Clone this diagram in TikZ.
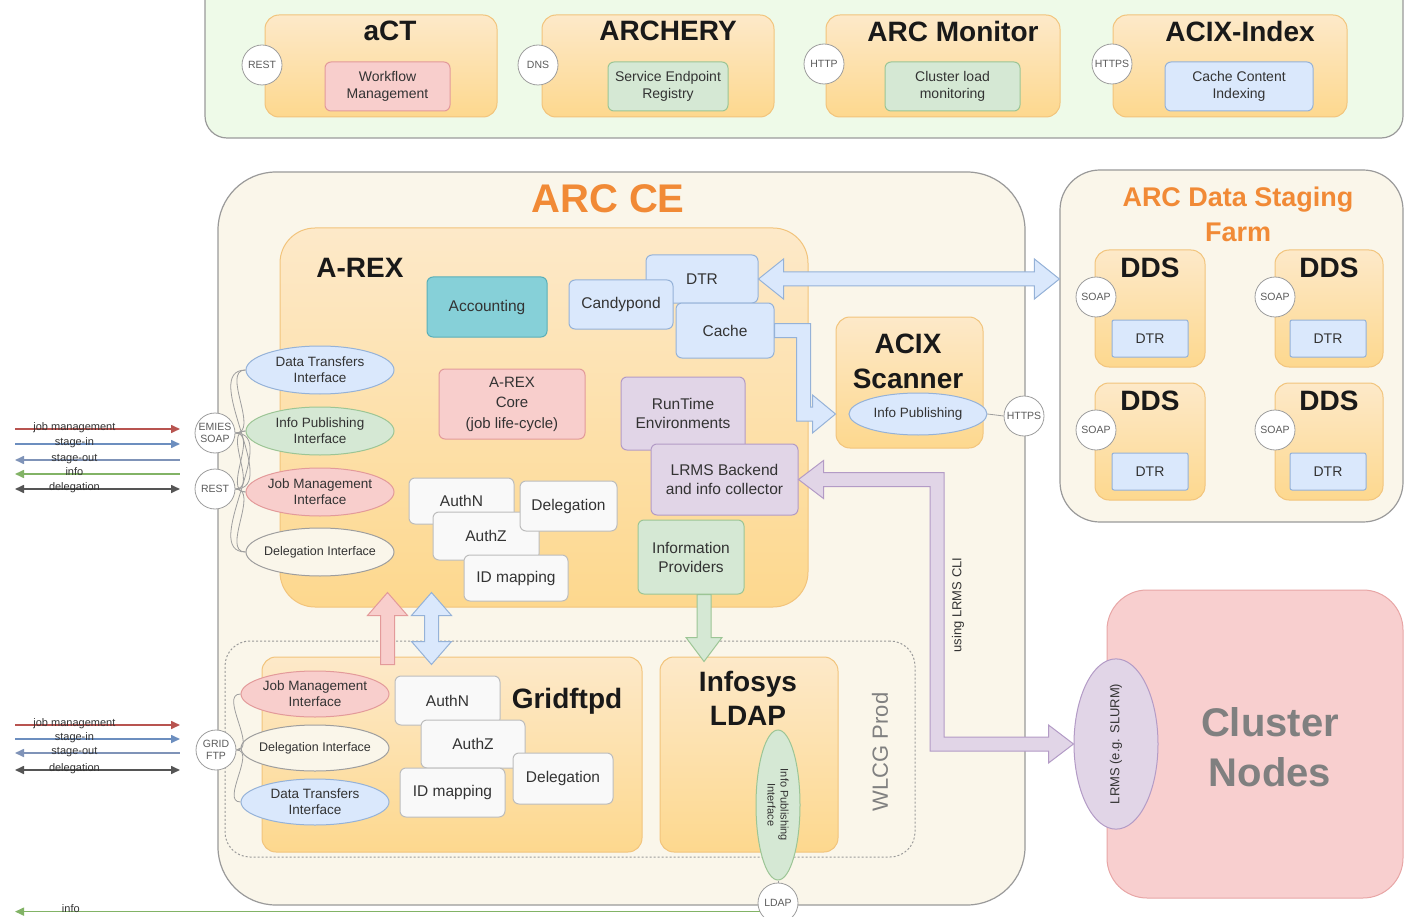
\documentclass[tikz,border=0pt]{standalone}
\usepackage{fontspec}
\setmainfont{Liberation Sans}
\usetikzlibrary{arrows.meta,shapes.geometric,calc}
\definecolor{orT}{HTML}{FDE9C9}
\definecolor{orB}{HTML}{FDD88E}
\definecolor{orD}{HTML}{F2C47C}
\definecolor{pkF}{HTML}{F8CECC}
\definecolor{pkD}{HTML}{E39A9A}
\definecolor{gnF}{HTML}{D5E8D4}
\definecolor{gnD}{HTML}{9CC595}
\definecolor{blF}{HTML}{DAE8FC}
\definecolor{blD}{HTML}{95B2D8}
\definecolor{puF}{HTML}{E1D5E7}
\definecolor{puD}{HTML}{B39BC6}
\definecolor{tlF}{HTML}{86D0D8}
\definecolor{tlD}{HTML}{5AAFB8}
\definecolor{whF}{HTML}{F9F9F9}
\definecolor{whD}{HTML}{BDBDBD}
\definecolor{crF}{HTML}{FAF6EA}
\definecolor{pnD}{HTML}{9A9A9A}
\definecolor{tgF}{HTML}{EEFAE8}
\definecolor{clF}{HTML}{F8CFCF}
\definecolor{clD}{HTML}{E8A6A6}
\definecolor{arcO}{HTML}{F18A36}
\definecolor{txt}{HTML}{333333}
\definecolor{ciD}{HTML}{9E9E9E}
\definecolor{jmC}{HTML}{B85450}
\definecolor{siC}{HTML}{6C8EBF}
\definecolor{soC}{HTML}{7F93B8}
\definecolor{inC}{HTML}{82B366}
\definecolor{dlC}{HTML}{555555}
\newcommand{\myfA}{\fontsize{15.5}{19}\selectfont}
\newcommand{\myfB}{\fontsize{14}{17}\selectfont}
\newcommand{\myfI}{\fontsize{13.5}{16}\selectfont}
\newcommand{\myfC}{\fontsize{10.5}{12}\selectfont}
\newcommand{\myfT}{\bfseries\fontsize{28}{35}\selectfont}
\newcommand{\myfL}{\fontsize{11}{12}\selectfont}
\newcommand{\mybx}[7]{\node[#6,minimum width={(#4-#2)*1pt},minimum height={(#5-#3)*1pt}] (#1) at ({(#2+#4)/2},{(#3+#5)/2}) {#7};}
\newcommand{\myel}[7]{\node[ifc,#6,minimum width={#4*1pt},minimum height={#5*1pt}] (#1) at (#2,#3) {#7};}
\newcommand{\myci}[4]{\node[circ] (#1) at (#2,#3) {#4};}
\tikzset{mytip/.tip={Triangle[length=9pt,width=8pt]}}
\begin{document}
\begin{tikzpicture}[x=1pt,y=-1pt,
  panel/.style={draw=pnD,line width=1.2pt,inner sep=0pt},
  ob/.style={draw=orD,line width=1pt,top color=orT,bottom color=orB,rounded corners=14pt,inner sep=0pt},
  sb/.style={line width=1pt,rounded corners=6pt,align=center,text=txt,inner sep=2pt,font=\myfA},
  pk/.style={sb,fill=pkF,draw=pkD},
  gn/.style={sb,fill=gnF,draw=gnD},
  bl/.style={sb,fill=blF,draw=blD},
  pu/.style={sb,fill=puF,draw=puD},
  tl/.style={sb,fill=tlF,draw=tlD},
  wh/.style={sb,fill=whF,draw=whD},
  ttl/.style={font=\myfT,text=black!90,align=center},
  ttlO/.style={text=arcO,align=center},
  circ/.style={circle,draw=ciD,fill=white,line width=0.8pt,minimum size=40pt,inner sep=0pt,align=center,text=txt!80,font=\myfC},
  ifc/.style={ellipse,line width=1pt,inner sep=0pt,align=center,text=txt,font=\myfI},
  dlab/.style={label={[font=\fontsize{12.5}{15}\selectfont,text=txt]center:Delegation Interface}},
  conn/.style={draw=ciD,line width=0.8pt},
  la/.style={line width=1.6pt},
  lab/.style={anchor=base,yshift=-1pt,font=\myfL,text=txt},
  fatBl/.style={fill=blF,draw=blD,line width=1pt,line join=miter},
  fatPu/.style={fill=puF,draw=puD,line width=1pt,line join=miter},
  fatGn/.style={fill=gnF,draw=gnD,line width=1pt,line join=miter},
  fatPk/.style={fill=pkF,draw=pkD,line width=1pt,line join=miter}]
\useasboundingbox (0,0) rectangle (1405,917);
\fill[white] (0,0) rectangle (1405,917);

% ---------- top panel ----------
\mybx{toppanel}{205}{-40}{1403}{138}{panel,fill=tgF,rounded corners=22pt}{}
\mybx{act}{265}{15}{497}{117}{ob}{}
\node[ttl] (actT) at (390,31) {aCT};
\mybx{wf}{325}{62}{450}{111}{pk,font=\myfB}{Workflow\\Management}
\myci{restT}{262}{65}{REST}
\mybx{arch}{542}{15}{774}{117}{ob}{}
\node[ttl] (archT) at (668,31) {ARCHERY};
\mybx{ser}{608}{62}{728}{111}{gn,font=\myfB}{Service Endpoint\\Registry}
\myci{dns}{538}{65}{DNS}
\mybx{mon}{826}{15}{1060}{117}{ob}{}
\node[ttl] (monT) at (953,31) {ARC Monitor};
\mybx{clm}{885}{62}{1020}{111}{gn,font=\myfB}{Cluster load\\monitoring}
\myci{httpT}{824}{64}{HTTP}
\mybx{idx}{1113}{15}{1347}{117}{ob}{}
\node[ttl] (idxT) at (1240,31) {ACIX-Index};
\mybx{cci}{1165}{62}{1313}{111}{bl,font=\myfB}{Cache Content\\Indexing}
\myci{httpsT}{1112}{64}{HTTPS}

% ---------- ARC CE ----------
\mybx{arcce}{218}{172}{1025}{905}{panel,fill=crF,rounded corners=58pt}{}
\node[ttlO,font=\bfseries\fontsize{40}{46}\selectfont] (arcceT) at (608,199) {ARC CE};

% WLCG Prod
\mybx{wlcg}{225}{641}{915}{857}{draw=pnD,line width=1pt,dash pattern=on 2pt off 2pt,rounded corners=25pt,inner sep=0pt}{}
\node[rotate=90,text=gray,font=\fontsize{22}{26}\selectfont] (wlcgT) at (880,752) {WLCG Prod};

% A-REX
\mybx{arex}{280}{228}{808}{607}{ob,rounded corners=35pt}{}
\node[ttl] (arexT) at (360,268) {A-REX};
\mybx{acc}{427}{277}{547}{337}{tl}{Accounting}
\mybx{dtr}{646}{255}{758}{303}{bl}{DTR}
\mybx{cand}{569}{280}{673}{329}{bl}{Candypond}
\mybx{cache}{676}{303}{774}{358}{bl}{Cache}
\mybx{core}{439}{369}{585}{439}{pk,font=\fontsize{15}{20.5}\selectfont}{A-REX\\Core\\(job life-cycle)}
\mybx{rte}{621}{377}{745}{450}{pu}{RunTime\\Environments}
\mybx{lrmsb}{651}{444}{798}{515}{pu}{LRMS Backend\\and info collector}
\mybx{infop}{638}{520}{744}{594}{gn}{Information\\Providers}
\mybx{authn}{409}{478}{514}{524}{wh}{AuthN}
\mybx{authz}{433}{512}{539}{560}{wh}{AuthZ}
\mybx{idm}{464}{555}{568}{601}{wh}{ID mapping}
\mybx{deleg}{520}{481}{617}{531}{wh}{Delegation}

\myel{dti}{320}{370}{148}{48}{fill=blF,draw=blD}{Data Transfers\\Interface}
\myel{ipi}{320}{431}{148}{48}{fill=gnF,draw=gnD}{Info Publishing\\Interface}
\myel{jmi}{320}{492}{148}{48}{fill=pkF,draw=pkD}{Job Management\\Interface}
\myel{dli}{320}{552}{148}{48}{fill=crF,draw=ciD,dlab}{}
\myci{emies}{215}{433}{EMIES\\SOAP}
\myci{restA}{215}{489}{REST}
\foreach \e in {dti,ipi,jmi,dli}{
  \draw[conn] (emies.east) to[out=0,in=180] (\e.west);
  \draw[conn] (restA.east) to[out=0,in=180] (\e.west);
}

% Gridftpd
\mybx{gftp}{262}{657}{642}{852}{ob}{}
\node[ttl] (gftpT) at (567,701) {Gridftpd};
\mybx{gauthn}{395}{676}{500}{725}{wh}{AuthN}
\mybx{gauthz}{421}{720}{525}{768}{wh}{AuthZ}
\mybx{gidm}{400}{768}{505}{817}{wh}{ID mapping}
\mybx{gdeleg}{513}{753}{613}{804}{wh}{Delegation}
\myel{gjmi}{315}{694}{148}{46}{fill=pkF,draw=pkD}{Job Management\\Interface}
\myel{gdli}{315}{748}{148}{46}{fill=crF,draw=ciD,dlab}{}
\myel{gdti}{315}{802}{148}{46}{fill=blF,draw=blD}{Data Transfers\\Interface}
\myci{gridftp}{216}{750}{GRID\\FTP}
\foreach \e in {gjmi,gdli,gdti}{
  \draw[conn] (gridftp.east) to[out=0,in=180] (\e.west);
}

% Infosys LDAP
\mybx{ldap}{660}{657}{838}{852}{ob}{}
\node[ttl,font=\bfseries\fontsize{28}{34}\selectfont] (ldapT) at (748,698) {Infosys\\LDAP};
\node[ifc,fill=gnF,draw=gnD,rotate=-90,minimum width=150pt,minimum height=44pt,font=\fontsize{11}{13}\selectfont] (ldapip) at (778,805) {Info Publishing\\Interface};
\myci{ldapc}{778}{903}{LDAP}
\draw[conn] (ldapip.east) -- (ldapc.north);

% ACIX Scanner
\mybx{acix}{836}{317}{983}{448}{ob}{}
\node[ttl,font=\bfseries\fontsize{28}{35}\selectfont] (acixT) at (908,361) {ACIX\\Scanner};
\myel{acixip}{918}{414}{138}{42}{fill=blF,draw=blD}{Info Publishing}
\myci{httpsA}{1024}{416}{HTTPS}
\draw[conn] (acixip.east) -- (httpsA.west);

% ---------- Data staging farm ----------
\mybx{farm}{1060}{170}{1403}{522}{panel,fill=crF,rounded corners=40pt}{}
\node[ttlO,font=\bfseries\fontsize{27}{35}\selectfont] (farmT) at (1238,214) {ARC Data Staging\\Farm};
\mybx{dds1}{1095}{250}{1205}{367}{ob}{}
\node[ttl] (dds1T) at (1150,268) {DDS};
\mybx{dtr1}{1112}{320}{1188}{357}{bl,rounded corners=2pt,font=\myfB}{DTR}
\myci{soap1}{1096}{297}{SOAP}
\mybx{dds2}{1275}{250}{1383}{367}{ob}{}
\node[ttl] (dds2T) at (1329,268) {DDS};
\mybx{dtr2}{1290}{320}{1366}{357}{bl,rounded corners=2pt,font=\myfB}{DTR}
\myci{soap2}{1275}{297}{SOAP}
\mybx{dds3}{1095}{383}{1205}{500}{ob}{}
\node[ttl] (dds3T) at (1150,401) {DDS};
\mybx{dtr3}{1112}{453}{1188}{490}{bl,rounded corners=2pt,font=\myfB}{DTR}
\myci{soap3}{1096}{430}{SOAP}
\mybx{dds4}{1275}{383}{1383}{500}{ob}{}
\node[ttl] (dds4T) at (1329,401) {DDS};
\mybx{dtr4}{1290}{453}{1366}{490}{bl,rounded corners=2pt,font=\myfB}{DTR}
\myci{soap4}{1275}{430}{SOAP}

% ---------- Cluster nodes ----------
\mybx{cluster}{1107}{590}{1403}{898}{fill=clF,draw=clD,line width=1pt,rounded corners=40pt,inner sep=0pt}{}
\node[font=\bfseries\fontsize{40}{50}\selectfont,text=gray,align=center] (clT) at (1270,747) {Cluster\\Nodes};
\node[ellipse,rotate=90,minimum width=160pt,minimum height=84pt,inner sep=0pt,fill=puF,draw=puD,line width=1pt,text=txt,font=\fontsize{13}{15}\selectfont] (lrms) at (1116,744) {LRMS (e.g. SLURM)};

% ---------- fat arrows ----------
\coordinate (dA) at (dtr.east);
\coordinate (dB) at (farm.west |- dA);
\draw[fatBl] (dA) -- ($(dA)+(25,-20)$) -- ($(dA)+(25,-7)$) -- ($(dB)+(-25,-7)$) -- ($(dB)+(-25,-20)$) -- (dB) -- ($(dB)+(-25,20)$) -- ($(dB)+(-25,7)$) -- ($(dA)+(25,7)$) -- ($(dA)+(25,20)$) -- cycle;

\coordinate (cA) at (cache.east);
\coordinate (cT) at (acix.west |- acixip.center);
\draw[fatBl] ($(cA)+(0,-7)$) -- ($(cT |- cA)+(-25,-7)$) -- ($(cT)+(-25,-7)$) -- ($(cT)+(-23,-7)$) -- ($(cT)+(-23,-19)$) -- (cT) -- ($(cT)+(-23,19)$) -- ($(cT)+(-23,7)$) -- ($(cT)+(-39,7)$) -- ($(cT |- cA)+(-39,7)$) -- ($(cA)+(0,7)$) -- cycle;

\coordinate (pA) at (lrmsb.east);
\coordinate (pB) at (lrms.north);
\coordinate (pC) at (937,480);
\draw[fatPu] (pA) -- ($(pA)+(25,-19)$) -- ($(pA)+(25,-7)$) -- ($(pC |- pA)+(7,-7)$) -- ($(pC |- pB)+(7,-7)$) -- ($(pB)+(-25,-7)$) -- ($(pB)+(-25,-19)$) -- (pB) -- ($(pB)+(-25,19)$) -- ($(pB)+(-25,7)$) -- ($(pC |- pB)+(-7,7)$) -- ($(pC |- pA)+(-7,7)$) -- ($(pA)+(25,7)$) -- ($(pA)+(25,19)$) -- cycle;
\node[rotate=90,text=txt,font=\fontsize{13}{15}\selectfont] (cliT) at (958,605) {using LRMS CLI};

\coordinate (gA) at ($(infop.south)+(13,0)$);
\coordinate (gT) at ($(gA |- ldap.north)+(0,5)$);
\draw[fatGn] ($(gA)+(-7,0)$) -- ($(gA)+(7,0)$) -- ($(gT)+(7,-24)$) -- ($(gT)+(18,-24)$) -- (gT) -- ($(gT)+(-18,-24)$) -- ($(gT)+(-7,-24)$) -- cycle;

\coordinate (kB) at ($(gftp.north west)+(126,8)$);
\coordinate (kT) at ($(kB |- arex.south)+(0,-15)$);
\draw[fatPk] ($(kB)+(-7,0)$) -- ($(kT)+(-7,23)$) -- ($(kT)+(-20,23)$) -- (kT) -- ($(kT)+(20,23)$) -- ($(kT)+(7,23)$) -- ($(kB)+(7,0)$) -- cycle;

\coordinate (bB) at ($(kB)+(44,0)$);
\coordinate (bT) at ($(kT)+(44,0)$);
\draw[fatBl] (bT) -- ($(bT)+(20,23)$) -- ($(bT)+(7,23)$) -- ($(bB)+(7,-23)$) -- ($(bB)+(20,-23)$) -- (bB) -- ($(bB)+(-20,-23)$) -- ($(bB)+(-7,-23)$) -- ($(bT)+(-7,23)$) -- ($(bT)+(-20,23)$) -- cycle;

% ---------- left external arrows ----------
\coordinate (a1s) at (15,429); \coordinate (a1e) at (180,429);
\coordinate (a2s) at (15,444); \coordinate (a2e) at (180,444);
\coordinate (a3s) at (15,460); \coordinate (a3e) at (180,460);
\coordinate (a4s) at (15,474); \coordinate (a4e) at (180,474);
\coordinate (a5s) at (15,489); \coordinate (a5e) at (180,489);
\draw[la,jmC,-{mytip}] (a1s) -- (a1e) node[lab,pos=0.36] {job management};
\draw[la,siC,-{mytip}] (a2s) -- (a2e) node[lab,pos=0.36] {stage-in};
\draw[la,soC,{mytip}-] (a3s) -- (a3e) node[lab,pos=0.36] {stage-out};
\draw[la,inC,{mytip}-] (a4s) -- (a4e) node[lab,pos=0.36] {info};
\draw[la,dlC,{mytip}-{mytip}] (a5s) -- (a5e) node[lab,pos=0.36] {delegation};

\coordinate (b1s) at (15,725); \coordinate (b1e) at (180,725);
\coordinate (b2s) at (15,739); \coordinate (b2e) at (180,739);
\coordinate (b3s) at (15,753); \coordinate (b3e) at (180,753);
\coordinate (b4s) at (15,770); \coordinate (b4e) at (180,770);
\draw[la,jmC,-{mytip}] (b1s) -- (b1e) node[lab,pos=0.36] {job management};
\draw[la,siC,-{mytip}] (b2s) -- (b2e) node[lab,pos=0.36] {stage-in};
\draw[la,soC,{mytip}-] (b3s) -- (b3e) node[lab,pos=0.36] {stage-out};
\draw[la,dlC,{mytip}-{mytip}] (b4s) -- (b4e) node[lab,pos=0.36] {delegation};

\coordinate (infoEnd) at (15,911);
\draw[la,inC,{mytip}-] (infoEnd |- ldapc.205) -- (ldapc.205) node[lab,pos=0.075] {info};
\end{tikzpicture}
\end{document}
